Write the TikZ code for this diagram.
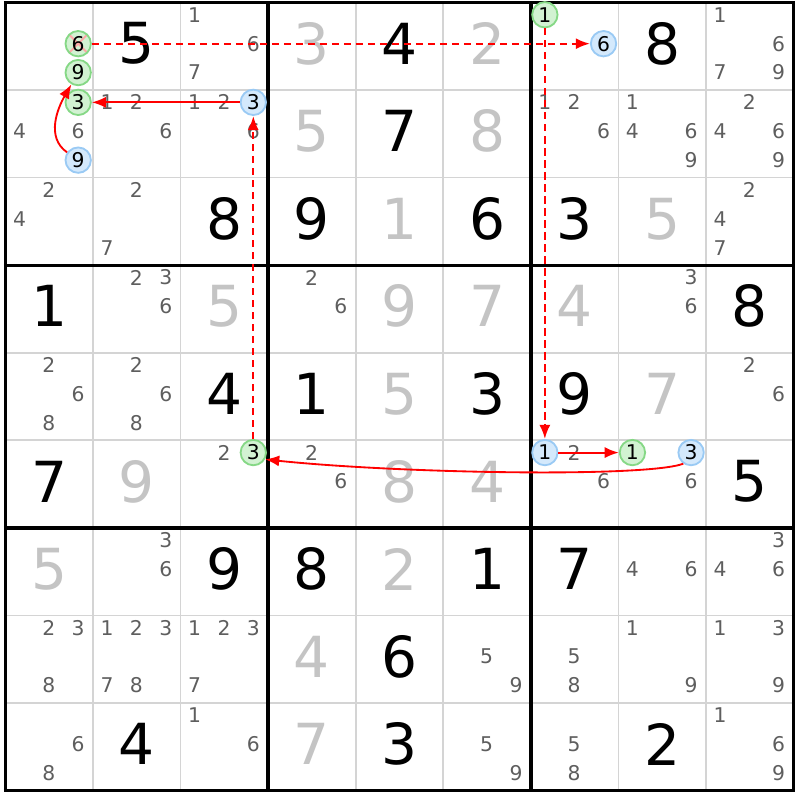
\documentclass[tikz,border=0pt]{standalone}
\usepackage{fontspec}
\setmainfont{DejaVu Sans}
\usetikzlibrary{arrows.meta,calc}
\definecolor{kandGrau}{HTML}{5E5E5E}
\definecolor{loesGrau}{HTML}{C4C4C4}
\definecolor{linieGrau}{HTML}{D4D4D4}
\definecolor{gruenRand}{HTML}{86D886}
\definecolor{gruenFuell}{HTML}{D2F2D2}
\definecolor{blauRand}{HTML}{9ACAF4}
\definecolor{blauFuell}{HTML}{D4E9FC}
\tikzset{
  vorgabe/.style={text=black,inner sep=0pt,font=\fontsize{18.4}{20}\selectfont},
  geloest/.style={vorgabe,text=loesGrau},
  kand/.style={text=kandGrau,inner sep=0pt,font=\fontsize{6.6}{7}\selectfont},
  markgruen/.style={circle,draw=gruenRand,fill=gruenFuell,line width=0.6pt,minimum size=0.29cm,inner sep=0pt,text=black,font=\fontsize{6.6}{7}\selectfont},
  markblau/.style={markgruen,draw=blauRand,fill=blauFuell},
  streichgruen/.style={markgruen,path picture={\draw[red!35,line width=0.6pt] (path picture bounding box.north west) -- (path picture bounding box.south east) (path picture bounding box.north east) -- (path picture bounding box.south west);}},
  kettefest/.style={draw=red,line width=0.6pt,-{Latex[length=4.6pt,width=3.6pt,fill=red]}},
  kettelose/.style={kettefest,line width=0.7pt,dash pattern=on 2.3pt off 1.6pt},
}
\begin{document}
\begin{tikzpicture}
\useasboundingbox (-0.063,0.029) rectangle (9.074,-9.108);
%Gitter: duenne Linien zuerst, dann die Blockgrenzen
\foreach \i in {1,...,8}{
\draw[linieGrau,line width=0.55pt] (\i,0) -- (\i,-9);
\draw[linieGrau,line width=0.55pt] (0,-\i) -- (9,-\i);
}
\foreach \i in {0,3,6,9}{
\draw[black,line width=1.1pt] (\i,0.0175) -- (\i,-9.0175);
\draw[black,line width=1.1pt] (-0.0175,-\i) -- (9.0175,-\i);
}
%Vorgaben (schwarz) und geloeste Felder (grau)
\foreach \r/\c/\z in {1/2/5,1/5/4,1/8/8,2/5/7,3/3/8,3/4/9,3/6/6,3/7/3,4/1/1,4/9/8,5/3/4,5/4/1,5/6/3,5/7/9,6/1/7,6/9/5,7/3/9,7/4/8,7/6/1,7/7/7,8/5/6,9/2/4,9/5/3,9/8/2}{
\node[vorgabe] (z\r\c) at (\c-0.5,0.53-\r) {\z};
}
\foreach \r/\c/\z in {1/4/3,1/6/2,2/4/5,2/6/8,3/5/1,3/8/5,4/3/5,4/5/9,4/6/7,4/7/4,5/5/5,5/8/7,6/2/9,6/5/8,6/6/4,7/1/5,7/5/2,8/4/4,9/4/7}{
\node[geloest] (z\r\c) at (\c-0.5,0.53-\r) {\z};
}
%Kandidaten: Position im 3x3-Raster der Zelle
\foreach \r/\c/\liste in {1/3/{1,6,7},1/9/{1,6,7,9},2/1/{4,6},2/2/{1,2,6},2/3/{1,2,6},2/7/{1,2,6},2/8/{1,4,6,9},2/9/{2,4,6,9},3/1/{2,4},3/2/{2,7},3/9/{2,4,7},4/2/{2,3,6},4/4/{2,6},4/8/{3,6},5/1/{2,6,8},5/2/{2,6,8},5/9/{2,6},6/3/{2},6/4/{2,6},6/7/{2,6},6/8/{6},7/2/{3,6},7/8/{4,6},7/9/{3,4,6},8/1/{2,3,8},8/2/{1,2,3,7,8},8/3/{1,2,3,7},8/6/{5,9},8/7/{5,8},8/8/{1,9},8/9/{1,3,9},9/1/{6,8},9/3/{1,6},9/6/{5,9},9/7/{5,8},9/9/{1,6,9}}{
\foreach \d in \liste{
  \pgfmathsetmacro{\kx}{\c-1+0.16+0.335*mod(\d-1,3)}
  \pgfmathsetmacro{\ky}{-(\r-1)-0.14-0.33*floor((\d-1)/3)}
  \node[kand] (k\r\c\d) at (\kx,\ky) {\d};
}
}
%markierte Kandidaten der Kette
\foreach \r/\c/\d/\stil in {1/1/6/streichgruen,1/1/9/markgruen,2/1/3/markgruen,1/7/1/markgruen,6/3/3/markgruen,6/8/1/markgruen,1/7/6/markblau,2/1/9/markblau,2/3/3/markblau,6/7/1/markblau,6/8/3/markblau}{
  \pgfmathsetmacro{\kx}{\c-1+0.16+0.335*mod(\d-1,3)}
  \pgfmathsetmacro{\ky}{-(\r-1)-0.14-0.33*floor((\d-1)/3)}
  \node[\stil] (k\r\c\d) at (\kx,\ky) {\d};
}
\draw[kettelose] (k116) -- (k176);
\draw[kettelose] (k171) -- (k671);
\draw[kettefest] (k671) -- (k681);
\draw[kettefest] (k683.235) to[out=200,in=-6,out looseness=0.25,in looseness=0.82] (k633.-30);
\draw[kettelose] (k633) -- (k233);
\draw[kettefest] (k233) -- (k213);
\draw[kettefest] (k219) to[out=145,in=240] (k119);
\end{tikzpicture}
\end{document}
